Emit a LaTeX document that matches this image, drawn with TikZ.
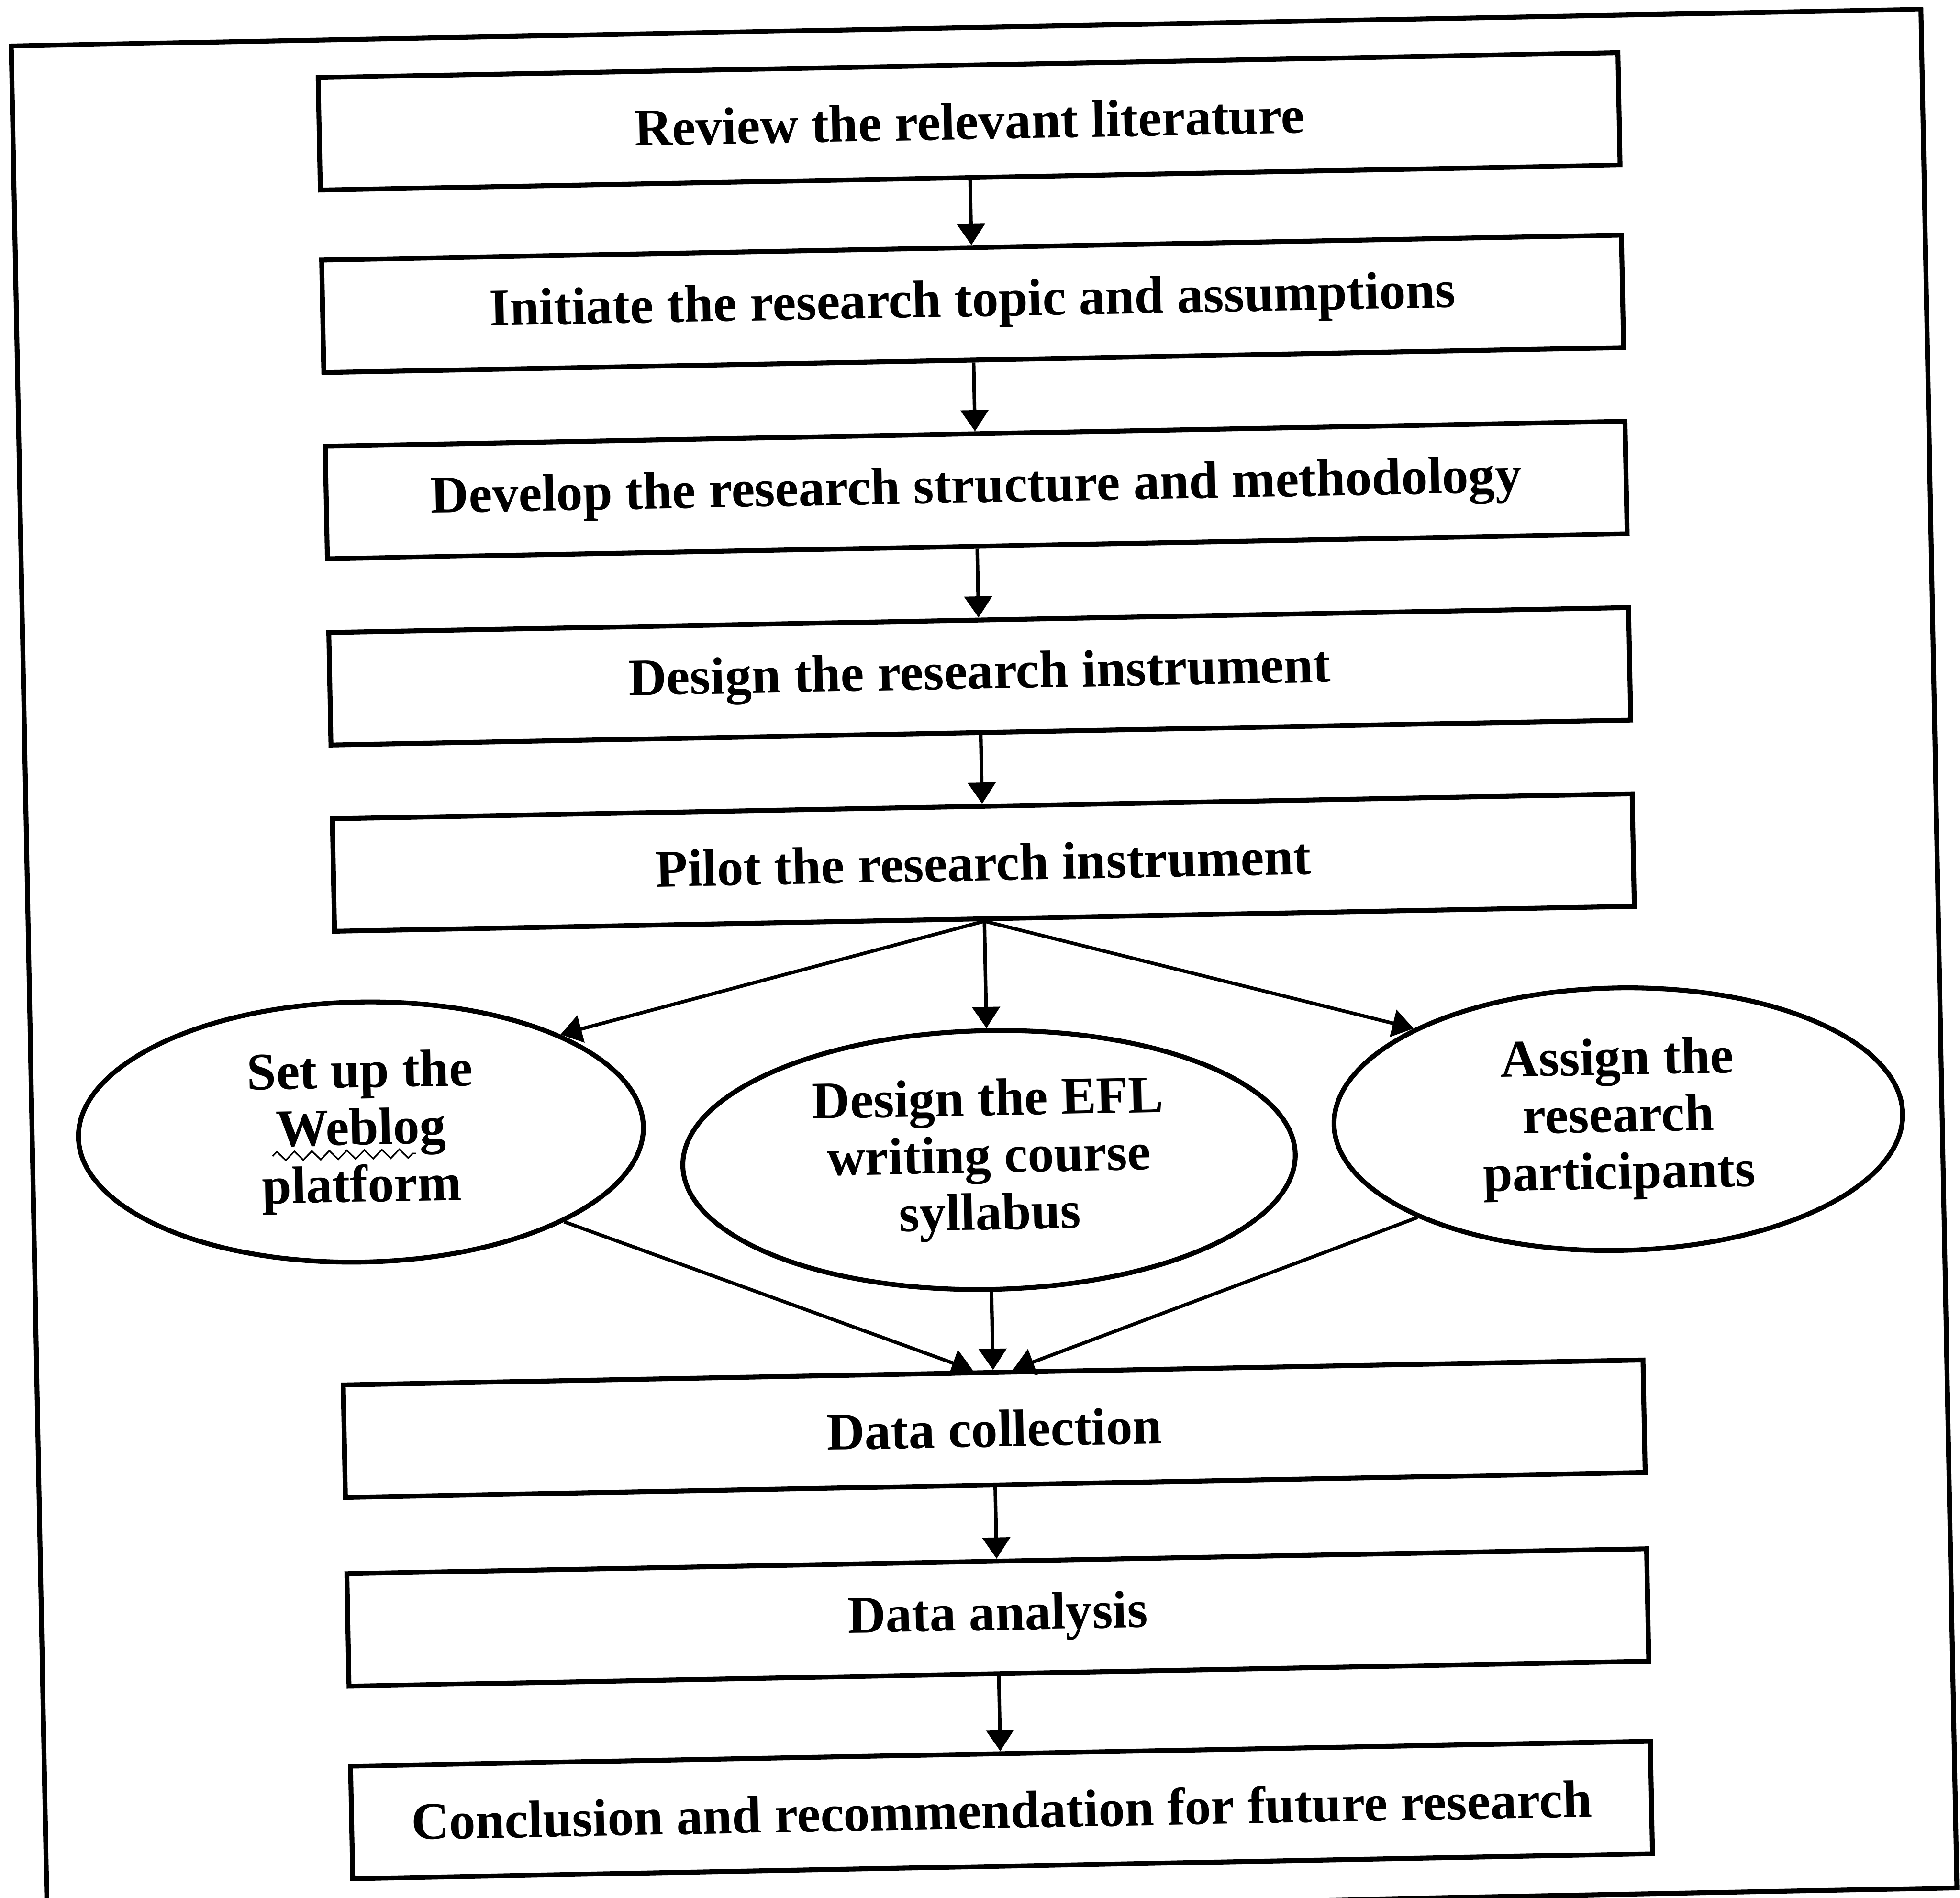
\documentclass[tikz,border=0pt]{standalone}
\usepackage{fontspec}
\setmainfont{Liberation Serif}
\usepackage{tikz}
\usetikzlibrary{arrows.meta,shapes.geometric,decorations.pathmorphing}

\begin{document}
\begin{tikzpicture}[>={Triangle[width=0.22cm,length=0.17cm]},
  stage/.style={draw,line width=1.1pt,minimum width=10.4cm,minimum height=0.9cm,inner sep=0pt,font=\fontsize{12}{14}\selectfont\bfseries},
  branch/.style={draw,ellipse,line width=1.1pt,inner sep=0pt,align=center,font=\fontsize{12}{13}\selectfont\bfseries},
  link/.style={->,line width=0.8pt},
  squiggle/.style={decorate,decoration={zigzag,segment length=0.14cm,amplitude=0.035cm},line width=0.35pt}]
\useasboundingbox (0,0) rectangle (15.68,-15.18);
\begin{scope}[rotate around={1.1:(7.84,-7.6)},transform shape]
\draw[line width=1.1pt] (0.23,-0.22) rectangle (15.51,-15.25);
% main column
\node[stage] (lit) at (7.88,-0.97) {Review the relevant literature};
\node[stage] (topic) at (7.88,-2.43) {Initiate the research topic and assumptions};
\node[stage] (method) at (7.88,-3.92) {Develop the research structure and methodology};
\node[stage] (instr) at (7.88,-5.41) {Design the research instrument};
\node[stage] (pilot) at (7.88,-6.90) {Pilot the research instrument};
% three parallel tasks
\node[branch,minimum width=4.52cm,minimum height=2.08cm] (web) at (2.86,-8.96) {Set up the\\Weblog\\platform};
\node[branch,minimum width=4.9cm,minimum height=2.07cm] (syl) at (7.88,-9.28) {Design the EFL\\writing course\\syllabus};
\node[branch,minimum width=4.55cm,minimum height=2.1cm] (part) at (12.92,-9.05) {Assign the\\research\\participants};
\node[stage] (collect) at (7.88,-11.43) {Data collection};
\node[stage] (analysis) at (7.88,-12.94) {Data analysis};
\node[stage] (concl) at (7.88,-14.48) {Conclusion and recommendation for future research};
\draw[squiggle] ([xshift=-0.71cm,yshift=-0.18cm]web.center) -- ([xshift=0.44cm,yshift=-0.18cm]web.center);
\draw[link] (lit) -- (topic);
\draw[link] (topic) -- (method);
\draw[link] (method) -- (instr);
\draw[link] (instr) -- (pilot);
\draw[link] (pilot.south) -- (web.north east);
\draw[link] (pilot.south) -- (syl.north);
\draw[link] (pilot.south) -- (part.north west);
\draw[link] (web.south east) -- ([xshift=-0.16cm]collect.north);
\draw[link] (syl.south) -- (collect.north);
\draw[link] (part.south west) -- ([xshift=0.16cm]collect.north);
\draw[link] (collect) -- (analysis);
\draw[link] (analysis) -- (concl);
\end{scope}
\end{tikzpicture}
\end{document}
